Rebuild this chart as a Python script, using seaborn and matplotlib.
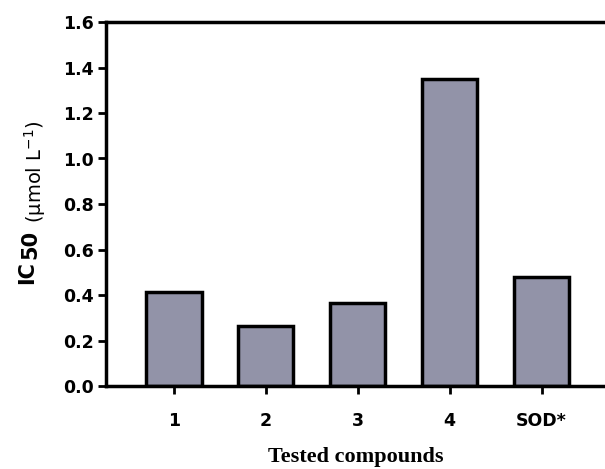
import pandas as pd
import matplotlib.pyplot as plt
import seaborn as sns

compounds = ['1', '2', '3', '4', 'SOD*']
ic50 = [0.413, 0.262, 0.365, 1.348, 0.480]

sns.set_style('ticks')
plt.rcParams['font.family'] = ['DejaVu Sans']
plt.rcParams['text.color'] = 'black'
plt.rcParams['axes.labelcolor'] = 'black'

df = pd.DataFrame({'compound': compounds, 'ic50': ic50})

W, H = 605, 469
fig = plt.figure(figsize=(W / 100, H / 100), dpi=100)
ax = fig.add_axes([106 / W, 1 - 386 / H, 1 - 106 / W, (386 - 22) / H])

sns.barplot(data=df, x='compound', y='ic50', color='#9293a8', saturation=1,
            width=0.6, edgecolor='black', linewidth=2.5, ax=ax)

ax.set_xlim(-0.74, 4.69)
ax.set_ylim(0, 1.6)
ax.set_yticks([0.0, 0.2, 0.4, 0.6, 0.8, 1.0, 1.2, 1.4, 1.6])
ax.set_yticklabels([f'{v:.1f}' for v in ax.get_yticks()])

for side in ['left', 'bottom', 'top']:
    ax.spines[side].set_linewidth(2.5)
    ax.spines[side].set_color('black')
ax.spines['right'].set_visible(False)

ax.tick_params(axis='both', direction='out', length=6, width=2, colors='black',
               labelsize=12.5)
ax.tick_params(axis='y', pad=3)
ax.tick_params(axis='x', pad=13)
for lbl in ax.get_xticklabels() + ax.get_yticklabels():
    lbl.set_fontweight('bold')

ax.set_xlabel('Tested compounds', fontsize=16, fontweight='bold', color='black',
              family=['Liberation Serif', 'DejaVu Serif'], labelpad=12)
ax.set_ylabel('')

# y label: bold IC with subscript 50, then the unit in regular weight
fig.text(27 / W, 1 - 273 / H, 'IC', rotation=90, fontsize=15, fontweight='bold',
         ha='center', va='center', color='black')
fig.text(30 / W, 1 - 244 / H, '50', rotation=90, fontsize=15, fontweight='bold',
         ha='center', va='center', color='black')
fig.text(35 / W, 1 - 172 / H, r'(μmol L$^{-1}$)', rotation=90, fontsize=14,
         ha='center', va='center', color='black')

fig.savefig('out.png', dpi=100)
